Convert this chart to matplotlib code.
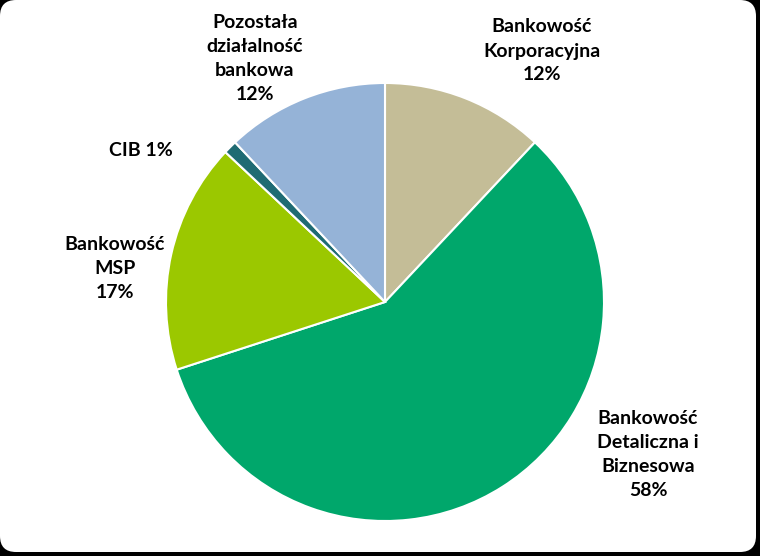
import matplotlib
matplotlib.use('Agg')
import matplotlib.pyplot as plt
import matplotlib.patches as patches

# Data
segments = ['Bankowość\nKorporacyjna', 'Bankowość\nDetaliczna i\nBiznesowa',
            'Bankowość\nMSP', 'CIB', 'Pozostała\ndziałalność\nbankowa']
shares = [12, 58, 17, 1, 12]
colors = ['#C4BD97', '#00A76B', '#9BC800', '#1F6B73', '#95B3D7']

W, H = 760, 556
fig = plt.figure(figsize=(W / 100, H / 100), dpi=100)
fig.patch.set_facecolor('black')
ax = fig.add_axes([0, 0, 1, 1])

# white rounded panel
ax.add_patch(patches.FancyBboxPatch((0, 4), W - 4, H - 4, boxstyle="round,pad=0,rounding_size=16",
                                    facecolor='white', edgecolor='none'))

ax.pie(shares, colors=colors, startangle=90, counterclock=False,
       center=(385, H - 302), radius=219, frame=True,
       wedgeprops=dict(edgecolor='white', linewidth=1.5))
ax.set_xlim(0, W)
ax.set_ylim(0, H)
ax.set_aspect('equal')
ax.axis('off')

font = ['Lato', 'DejaVu Sans']
label_pos = [(542, 51), (648, 455), (115, 268), (141, 151), (255, 58)]
for name, val, (x, y) in zip(segments, shares, label_pos):
    if name == 'CIB':
        txt = f'{name} {val}%'
    else:
        txt = f'{name}\n{val}%'
    ax.text(x, H - y, txt, ha='center', va='center', fontsize=14, fontweight='bold',
            family=font, linespacing=1.5, color='black')

fig.savefig('out.png', dpi=100, facecolor='black')
